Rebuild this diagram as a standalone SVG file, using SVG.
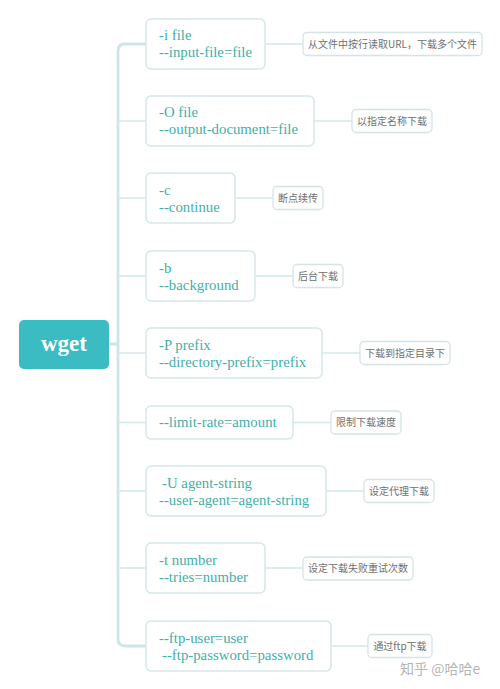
<svg xmlns="http://www.w3.org/2000/svg" width="500" height="689" viewBox="0 0 500 689">
<style>
.node{fill:#ffffff;stroke:#d6e7e9;stroke-width:1.5}
.lab{fill:#ffffff;stroke:#d6e4e6;stroke-width:1.3}
.nt{font-family:"Liberation Serif",serif;font-size:14.8px;fill:#3fb0aa}
.lt{font-family:"Noto Sans CJK SC","Noto Sans",sans-serif;font-size:10px;fill:#707070;text-anchor:middle}
.c{fill:none;stroke:#d4e7e9;stroke-width:1.5}
.trunk{fill:none;stroke:#cfe4e6;stroke-width:2.8}
</style>
<rect width="500" height="689" fill="#ffffff"/>
<g id="connectors">
<path class="trunk" d="M146,44 H125 Q118,44 118,51 V639 Q118,646 125,646 H146"/>
<path class="trunk" d="M109,344 H118"/>
<path class="c" d="M118,121 H146 M118,198 H146 M118,276 H146 M118,353 H146 M118,422.5 H146 M118,491 H146 M118,568 H146"/>
<path class="c" d="M265,44 H303 M314,121 H352 M235,198 H273 M255,276 H293 M322,353 H360 M293,422.5 H331 M326,491 H364 M265,568 H303 M331,646 H368"/>
</g>
<g id="root">
<rect x="19" y="320" width="90" height="49" rx="5" fill="#3bbcc2"/>
<text x="64" y="351" text-anchor="middle" font-family="Liberation Serif,serif" font-weight="bold" font-size="23" fill="#ffffff">wget</text>
</g>
<g id="n1">
<rect class="node" x="146" y="19" width="119" height="50" rx="5"/>
<text class="nt" x="159" y="40">-i file</text>
<text class="nt" x="159" y="57">--input-file=file</text>
<rect class="lab" x="303" y="32.5" width="179" height="23" rx="4"/>
<text class="lt" x="392.5" y="47.5">从文件中按行读取URL，下载多个文件</text>
</g>
<g id="n2">
<rect class="node" x="146" y="96" width="168" height="50" rx="5"/>
<text class="nt" x="159" y="117">-O file</text>
<text class="nt" x="159" y="134">--output-document=file</text>
<rect class="lab" x="352" y="109.5" width="80" height="23" rx="4"/>
<text class="lt" x="392" y="124.5">以指定名称下载</text>
</g>
<g id="n3">
<rect class="node" x="146" y="173" width="89" height="50" rx="5"/>
<text class="nt" x="159" y="194.5">-c</text>
<text class="nt" x="159" y="211.5">--continue</text>
<rect class="lab" x="273" y="186.5" width="50" height="23" rx="4"/>
<text class="lt" x="298" y="201.5">断点续传</text>
</g>
<g id="n4">
<rect class="node" x="146" y="251" width="109" height="50" rx="5"/>
<text class="nt" x="159" y="272.5">-b</text>
<text class="nt" x="159" y="289.5">--background</text>
<rect class="lab" x="293" y="264.5" width="50" height="23" rx="4"/>
<text class="lt" x="318" y="279.5">后台下载</text>
</g>
<g id="n5">
<rect class="node" x="146" y="328" width="176" height="50" rx="5"/>
<text class="nt" x="159" y="349.5">-P prefix</text>
<text class="nt" x="159" y="366.5">--directory-prefix=prefix</text>
<rect class="lab" x="360" y="341.5" width="90" height="23" rx="4"/>
<text class="lt" x="405" y="356.5">下载到指定目录下</text>
</g>
<g id="n6">
<rect class="node" x="146" y="406" width="147" height="33" rx="5"/>
<text class="nt" x="159" y="427">--limit-rate=amount</text>
<rect class="lab" x="331" y="411" width="70" height="23" rx="4"/>
<text class="lt" x="366" y="426">限制下载速度</text>
</g>
<g id="n7">
<rect class="node" x="146" y="466" width="180" height="50" rx="5"/>
<text class="nt" x="162" y="487.5">-U agent-string</text>
<text class="nt" x="159" y="504.5">--user-agent=agent-string</text>
<rect class="lab" x="364" y="479.5" width="70" height="23" rx="4"/>
<text class="lt" x="399" y="494.5">设定代理下载</text>
</g>
<g id="n8">
<rect class="node" x="146" y="543" width="119" height="50" rx="5"/>
<text class="nt" x="159" y="564.5">-t number</text>
<text class="nt" x="159" y="581.5">--tries=number</text>
<rect class="lab" x="303" y="557" width="110" height="23" rx="4"/>
<text class="lt" x="358" y="572">设定下载失败重试次数</text>
</g>
<g id="n9">
<rect class="node" x="146" y="621" width="185" height="50" rx="5"/>
<text class="nt" x="159" y="642.5">--ftp-user=user</text>
<text class="nt" x="162" y="659.5">--ftp-password=password</text>
<rect class="lab" x="368" y="634.5" width="64" height="23" rx="4"/>
<text class="lt" x="400" y="649.5">通过ftp下载</text>
</g>
<text x="400" y="674" font-family="Noto Sans CJK SC,Noto Sans,sans-serif" font-size="14" fill="#b5b5b5">知乎 @哈哈e</text>
</svg>
